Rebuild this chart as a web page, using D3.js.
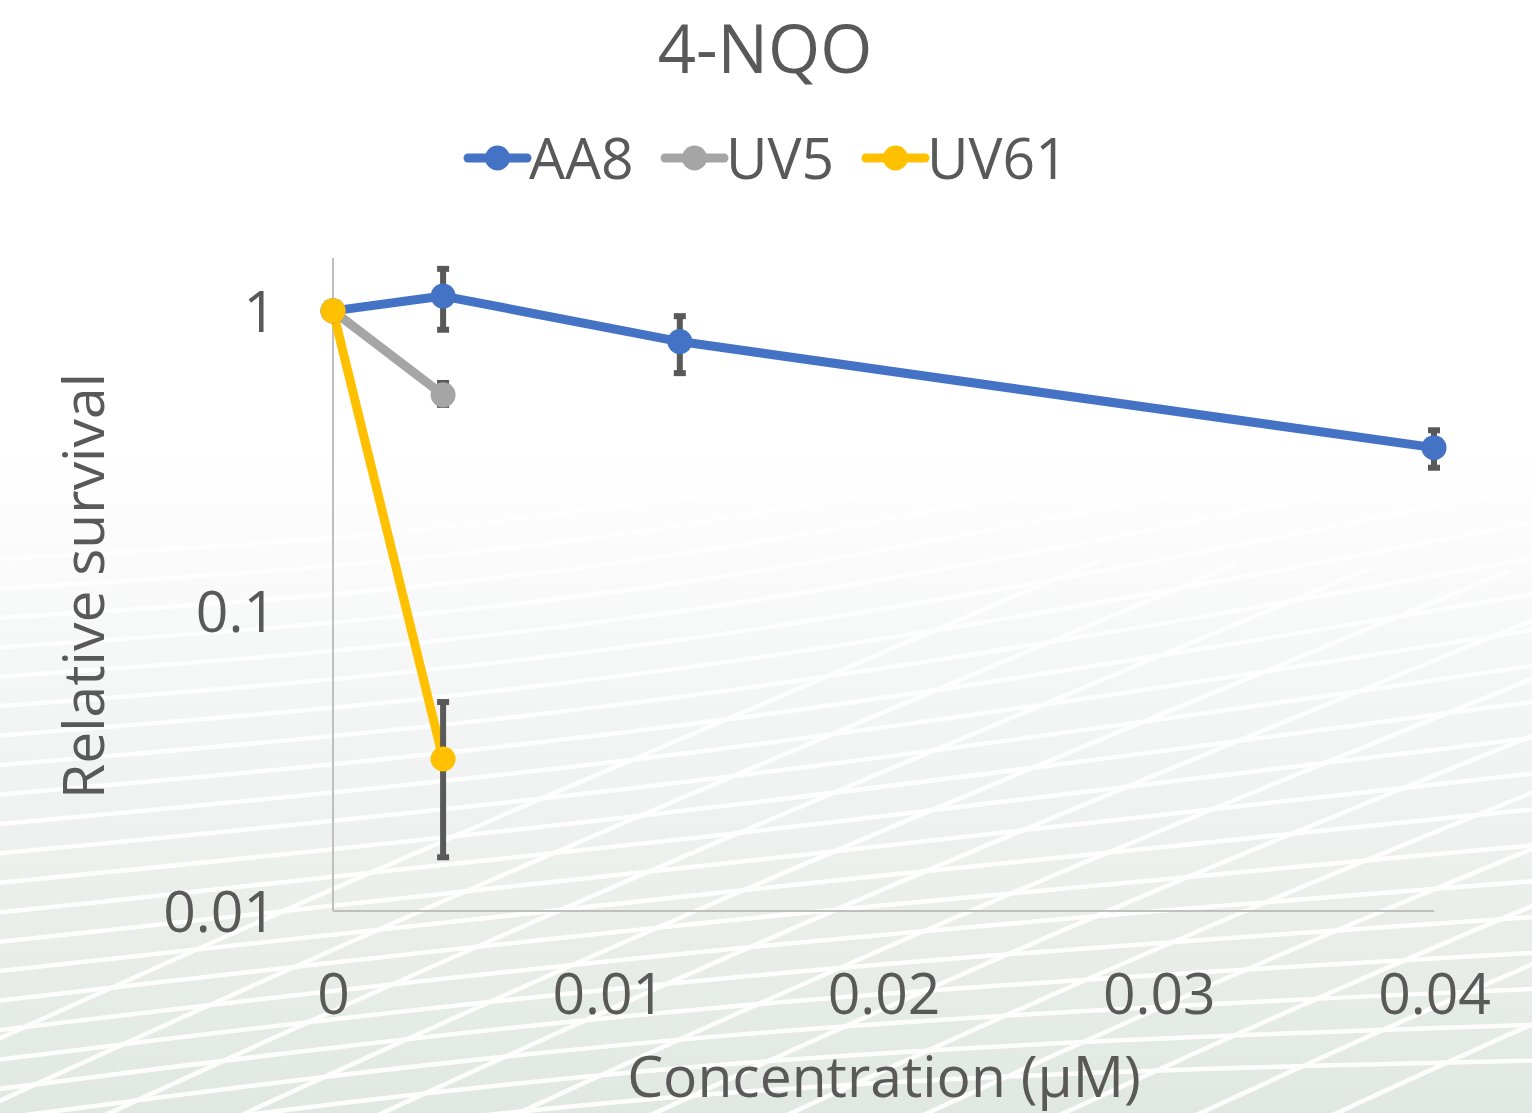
<!DOCTYPE html>
<html><head><meta charset="utf-8">
<script src="https://cdn.jsdelivr.net/npm/d3@7"></script>
<style>html,body{margin:0;padding:0;background:#fff;}svg{display:block;}</style>
</head><body>
<svg id="chart" width="1532" height="1113"></svg>
<script>
const seriesNames = ["AA8", "UV5", "UV61"];
const seriesColors = ["#4472C4", "#A5A5A5", "#FFC000"];
const aa8X = [0, 0.004, 0.0126, 0.04];
const aa8Y = [1.0, 1.12, 0.79, 0.35];
const aa8Lo = [1.0, 0.865, 0.62, 0.30];
const aa8Hi = [1.0, 1.38, 0.96, 0.40];
const uv5X = [0, 0.004];
const uv5Y = [1.0, 0.525];
const uv5Lo = [1.0, 0.486];
const uv5Hi = [1.0, 0.575];
const uv61X = [0, 0.004];
const uv61Y = [1.0, 0.0321];
const uv61Lo = [1.0, 0.0151];
const uv61Hi = [1.0, 0.0497];
const xTicks = [0, 0.01, 0.02, 0.03, 0.04];
const yTicks = [0.01, 0.1, 1];

const series = [
  {name: seriesNames[0], color: seriesColors[0], x: aa8X, y: aa8Y, lo: aa8Lo, hi: aa8Hi},
  {name: seriesNames[1], color: seriesColors[1], x: uv5X, y: uv5Y, lo: uv5Lo, hi: uv5Hi},
  {name: seriesNames[2], color: seriesColors[2], x: uv61X, y: uv61Y, lo: uv61Lo, hi: uv61Hi}
];

const W = 1532, H = 1113;
const svg = d3.select("#chart");
const FONT = "'Open Sans', 'DejaVu Sans', sans-serif";
const TXT = "#595959";

// background
const defs = svg.append("defs");
const lg = defs.append("linearGradient").attr("id","bg").attr("x1",0).attr("y1",0).attr("x2",0).attr("y2",1);
lg.append("stop").attr("offset","0%").attr("stop-color","#ffffff");
lg.append("stop").attr("offset","40%").attr("stop-color","#ffffff");
lg.append("stop").attr("offset","72%").attr("stop-color","#eff2f0");
lg.append("stop").attr("offset","100%").attr("stop-color","#e1e8e3");
svg.append("rect").attr("width",W).attr("height",H).attr("fill","url(#bg)");

// decorative white strands
const deco = svg.append("g").attr("fill","none").attr("stroke","#ffffff").attr("stroke-width",4.5).attr("opacity",0.95);
const strandCount = 22;
for (let i = 0; i < strandCount; i++) {
  const t = i / (strandCount - 1);
  const y0 = 560 + t * 620;
  const y1 = 380 + t * 760;
  deco.append("path").attr("d", d3.line().curve(d3.curveBasis)([[-20, y0], [700, y0 - 40 - 60*t], [1560, y1 - 80]]));
}
for (let i = 0; i < 12; i++) {
  const t = i / 11;
  const xs = -200 + t * 1500;
  deco.append("path").attr("d", d3.line().curve(d3.curveBasis)([[xs, 1130], [xs + 500, 900], [xs + 1300, 560 + 40*t]]));
}

// scales
const x = d3.scaleLinear().domain([0, 0.04]).range([333, 1434]);
const y = d3.scaleLog().domain([0.01, 1.5]).range([911, 258]);

// axes lines
svg.append("line").attr("x1",x(0)).attr("x2",x(0)).attr("y1",y(0.01)).attr("y2",y(1.5)).attr("stroke","#bfbfbf").attr("stroke-width",2);
svg.append("line").attr("x1",x(0)).attr("x2",x(0.04)).attr("y1",y(0.01)).attr("y2",y(0.01)).attr("stroke","#bfbfbf").attr("stroke-width",2);

const xAxis = d3.axisBottom(x).tickValues(xTicks).tickFormat(d => d === 0 ? "0" : d3.format(".2f")(d)).tickSize(0).tickPadding(0);
const gx = svg.append("g").attr("transform",`translate(0,${y(0.01)+63})`).call(xAxis);
gx.select(".domain").remove();
gx.selectAll("text").attr("font-family",FONT).attr("font-size",57).attr("fill",TXT).attr("dy","0.71em");

const yAxis = d3.axisLeft(y).tickValues(yTicks).tickFormat(d => String(d)).tickSize(0).tickPadding(0);
const gy = svg.append("g").attr("transform",`translate(${x(0)-57},0)`).call(yAxis);
gy.select(".domain").remove();
gy.selectAll("text").attr("font-family",FONT).attr("font-size",57).attr("fill",TXT).attr("dy","0.36em");

// title and axis titles
svg.append("text").attr("x",765).attr("y",73).attr("text-anchor","middle").attr("font-family",FONT).attr("font-size",67).attr("fill",TXT).text("4-NQO");
svg.append("text").attr("x",884).attr("y",1097).attr("text-anchor","middle").attr("font-family",FONT).attr("font-size",57).attr("fill",TXT).text("Concentration (µM)");
svg.append("text").attr("transform","translate(104,586) rotate(-90)").attr("text-anchor","middle").attr("font-family",FONT).attr("font-size",57).attr("fill",TXT).text("Relative survival");

// lines
const line = d3.line().x(d => x(d[0])).y(d => y(d[1]));
series.forEach(s => {
  svg.append("path").attr("d", line(s.x.map((v,i)=>[v, s.y[i]]))).attr("fill","none").attr("stroke",s.color).attr("stroke-width",9).attr("stroke-linejoin","round");
});
// error bars
series.forEach(s => {
  const g = svg.append("g").attr("stroke","#595959");
  s.x.forEach((v,i) => {
    if (s.lo[i] === s.hi[i]) return;
    g.append("line").attr("x1",x(v)).attr("x2",x(v)).attr("y1",y(s.lo[i])).attr("y2",y(s.hi[i])).attr("stroke-width",6);
    g.append("line").attr("x1",x(v)-6).attr("x2",x(v)+6).attr("y1",y(s.lo[i])).attr("y2",y(s.lo[i])).attr("stroke-width",6);
    g.append("line").attr("x1",x(v)-6).attr("x2",x(v)+6).attr("y1",y(s.hi[i])).attr("y2",y(s.hi[i])).attr("stroke-width",6);
  });
});
// markers
series.forEach(s => {
  svg.append("g").selectAll("circle").data(s.x.map((v,i)=>[v, s.y[i]])).join("circle")
    .attr("cx", d => x(d[0])).attr("cy", d => y(d[1])).attr("r", 12.5).attr("fill", s.color);
});

// legend
const legendX = [468, 665, 866];
series.forEach((s,i) => {
  const g = svg.append("g").attr("transform",`translate(${legendX[i]},158)`);
  g.append("line").attr("x1",0).attr("x2",59).attr("y1",0).attr("y2",0).attr("stroke",s.color).attr("stroke-width",9).attr("stroke-linecap","round");
  g.append("circle").attr("cx",29.5).attr("cy",0).attr("r",12.5).attr("fill",s.color);
  g.append("text").attr("x",61).attr("y",0).attr("dy","0.36em").attr("font-family",FONT).attr("font-size",57).attr("fill",TXT).text(s.name);
});
</script>
</body></html>
